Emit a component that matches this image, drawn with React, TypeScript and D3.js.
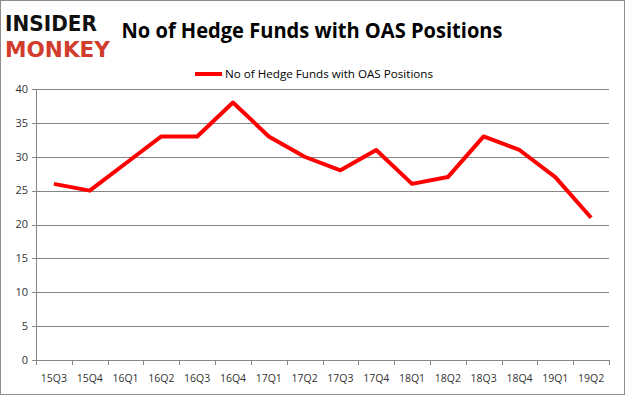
import { useEffect, useRef } from "react";
import * as d3 from "d3";

const quarters = ["15Q3", "15Q4", "16Q1", "16Q2", "16Q3", "16Q4", "17Q1", "17Q2", "17Q3", "17Q4", "18Q1", "18Q2", "18Q3", "18Q4", "19Q1", "19Q2"];
const hedgeFunds = [26, 25, 29, 33, 33, 38, 33, 30, 28, 31, 26, 27, 33, 31, 27, 21];
const yTicks = [0, 5, 10, 15, 20, 25, 30, 35, 40];
const seriesName = "No of Hedge Funds with OAS Positions";
const title = "No of Hedge Funds with OAS Positions";

export default function App() {
  const ref = useRef<SVGSVGElement>(null);

  useEffect(() => {
    if (!ref.current) return;
    const width = 625;
    const height = 395;
    const margin = { top: 89, right: 16, bottom: 35, left: 36 };

    const svg = d3.select(ref.current);
    svg.selectAll("*").remove();

    svg.append("rect")
      .attr("x", 0.5).attr("y", 0.5)
      .attr("width", width - 1).attr("height", height - 1)
      .attr("fill", "white").attr("stroke", "#8c8c8c");

    const x = d3.scaleBand<string>().domain(quarters).range([margin.left, width - margin.right]);
    const y = d3.scaleLinear().domain([0, 40]).range([height - margin.bottom, margin.top]);

    // gridlines
    svg.append("g").selectAll("line")
      .data(yTicks)
      .join("line")
      .attr("x1", margin.left - 4).attr("x2", width - margin.right)
      .attr("y1", (d) => Math.round(y(d)) + 0.5).attr("y2", (d) => Math.round(y(d)) + 0.5)
      .attr("stroke", "#868686").attr("stroke-width", 1);

    // y labels
    svg.append("g").selectAll("text")
      .data(yTicks)
      .join("text")
      .attr("x", margin.left - 8)
      .attr("y", (d) => y(d))
      .attr("dy", "0.35em")
      .attr("text-anchor", "end")
      .attr("font-family", "'Open Sans', sans-serif")
      .attr("font-size", 11)
      .attr("fill", "#333")
      .text((d) => d);

    // y axis line
    svg.append("line")
      .attr("x1", margin.left + 0.5).attr("x2", margin.left + 0.5)
      .attr("y1", margin.top).attr("y2", y(0))
      .attr("stroke", "#868686");

    // x ticks
    const tickPos = quarters.map((q) => x(q) as number).concat([width - margin.right]);
    svg.append("g").selectAll("line")
      .data(tickPos)
      .join("line")
      .attr("x1", (d) => Math.round(d) + 0.5).attr("x2", (d) => Math.round(d) + 0.5)
      .attr("y1", y(0)).attr("y2", y(0) + 5)
      .attr("stroke", "#868686");

    svg.append("g").selectAll("text")
      .data(quarters)
      .join("text")
      .attr("x", (d) => (x(d) as number) + x.bandwidth() / 2)
      .attr("y", y(0) + 22)
      .attr("text-anchor", "middle")
      .attr("font-family", "'Open Sans', sans-serif")
      .attr("font-size", 10.5)
      .attr("fill", "#333")
      .text((d) => d);

    // line
    const line = d3.line<number>()
      .x((_, i) => (x(quarters[i]) as number) + x.bandwidth() / 2)
      .y((d) => y(d));
    svg.append("path")
      .datum(hedgeFunds)
      .attr("d", line)
      .attr("fill", "none")
      .attr("stroke", "#ff0000")
      .attr("stroke-width", 4)
      .attr("stroke-linejoin", "round");

    // title
    svg.append("text")
      .attr("x", 312).attr("y", 38)
      .attr("text-anchor", "middle")
      .attr("font-family", "'Open Sans', sans-serif")
      .attr("font-weight", "bold")
      .attr("font-size", 21)
      .attr("textLength", 381)
      .attr("lengthAdjust", "spacingAndGlyphs")
      .attr("fill", "#000")
      .text(title);

    // legend
    svg.append("line")
      .attr("x1", 195).attr("x2", 222)
      .attr("y1", 74).attr("y2", 74)
      .attr("stroke", "#ff0000").attr("stroke-width", 4);
    svg.append("text")
      .attr("x", 225).attr("y", 78)
      .attr("font-family", "'Open Sans', sans-serif")
      .attr("font-size", 11)
      .attr("textLength", 208)
      .attr("lengthAdjust", "spacingAndGlyphs")
      .attr("fill", "#000")
      .text(seriesName);

    // logo
    svg.append("text")
      .attr("x", 5).attr("y", 31)
      .attr("font-family", "'DejaVu Sans', sans-serif")
      .attr("font-weight", "bold")
      .attr("font-size", 21)
      .attr("textLength", 92)
      .attr("lengthAdjust", "spacingAndGlyphs")
      .attr("fill", "#111")
      .text("INSIDER");
    svg.append("text")
      .attr("x", 5).attr("y", 57)
      .attr("font-family", "'DejaVu Sans', sans-serif")
      .attr("font-weight", "bold")
      .attr("font-size", 21)
      .attr("textLength", 105)
      .attr("lengthAdjust", "spacingAndGlyphs")
      .attr("fill", "#d13c2c")
      .text("MONKEY");
  }, []);

  return (
    <div style={{ position: "absolute", left: 0, top: 0 }}>
      <svg ref={ref} width={625} height={395} />
    </div>
  );
}
